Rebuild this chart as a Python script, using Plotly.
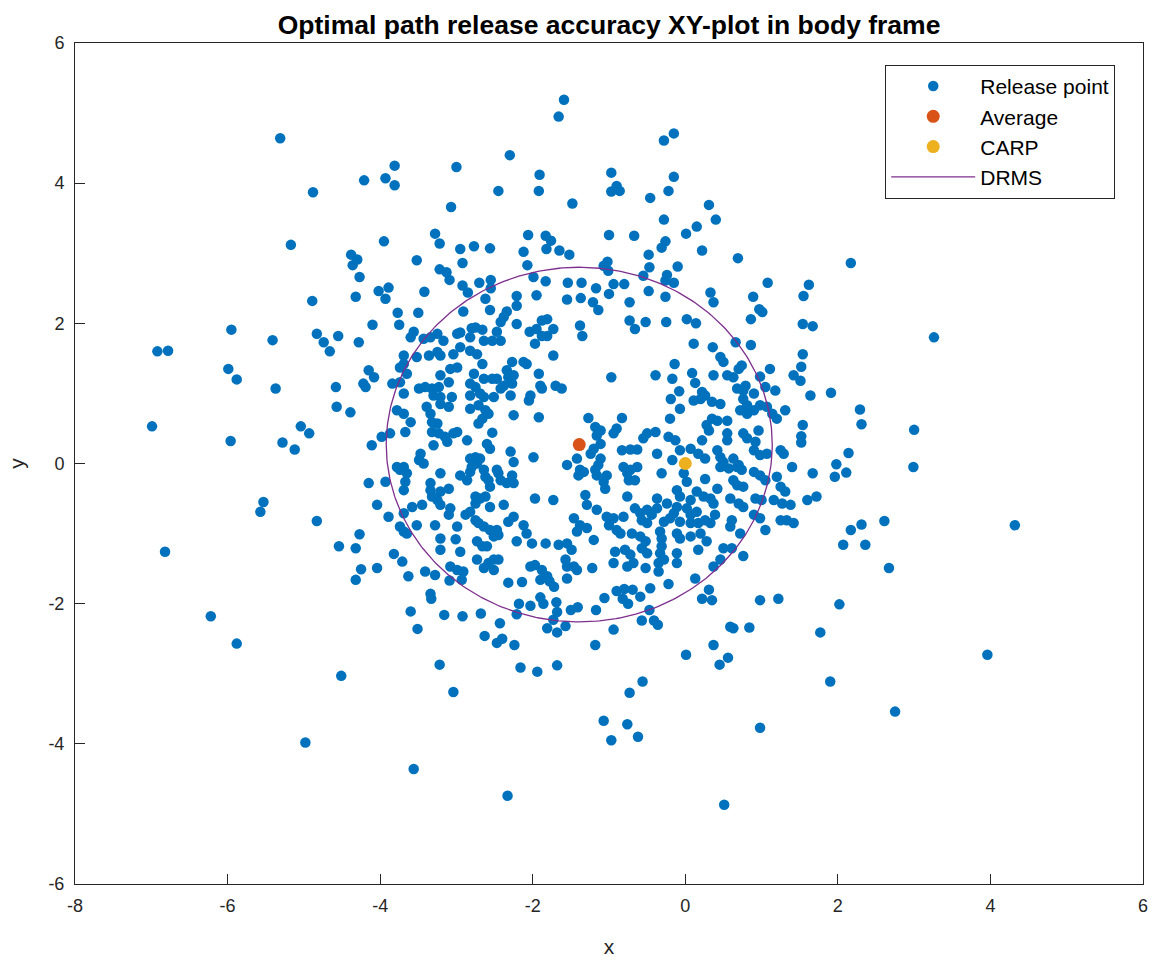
import numpy as np
import plotly.graph_objects as go

# Release points in body frame (x, y)
release_x = [
    -6.92, -6.78, -5.99, -5.88, -5.37, -6.99, -5.96, -5.41, -4.58, -4.57, -4.39, -5.04, -4.93, -5.28, -5.12,
    -5.53, -5.57, -4.83, -6.82, -4.27, -4.54, -4.32, -4.25, -4.32, -4.74, -4.66, -4.83, -4.55, -4.28,
    -5.31, -4.88, -4.21, -5.17, -4.38, -4.30, -4.36, -4.27, -4.89, -4.32, -5.95,
    -6.22, -5.88, -4.51, -4.98,
    -1.59, -1.66, -2.30, -3.00, -3.81, -3.93, -3.81, -1.91, -1.92, -2.45, -1.48, -3.07, -3.28, -3.22, -3.95,
    -2.06, -1.83, -1.76, -1.82, -1.65, -1.52, -2.12, -2.77, -2.56, -2.95, -2.92, -2.07, -3.52, -3.22, -3.13,
    -3.09, -2.70, -2.55, -2.55, -2.92, -2.85, -1.99, -1.83, -1.54, -1.36, -4.02, -3.89, -3.93, -3.42, -2.62,
    -2.21, -1.95, -1.55, -1.37, -2.21, -3.77, -3.50, -2.91, -2.56, -2.34, -2.38, -2.42, -4.10, -3.75, -2.21,
    -3.56, -3.60, -3.25, -3.34, -2.99, -2.95, -2.80, -2.75, -2.66, -2.47, -2.04, -1.95, -1.88, -1.81, -1.73,
    -1.88, -1.38, -1.35,
    -0.15, -0.28, -0.97, -0.90, -0.97, -0.86, -0.15, -0.22, -0.46, 0.31, 0.40, -0.28, 0.15, 0.01, -1.00,
    -0.67, -0.26, -0.31, 0.22, 0.69, -0.48, -0.47, -0.55, -0.10, -1.02, -1.07, -1.01, -0.24, -0.26, -0.15,
    -1.17, -0.94, -0.80, -1.00, -1.21, -1.14, -0.73, -0.48, -0.26, 0.33, 0.37, 1.08, 0.89, 0.97, 1.01,
    0.86, -0.73, -0.66, -0.52, -0.25, 0.02, 0.14,
    2.17, 1.62, 1.55, 1.54, 1.67, 3.26,
    1.54, 1.52, 1.51, 1.64, 1.91, 2.29, 2.31, 3.00, 1.54, 1.52, 1.52, 2.14, 1.98, 2.11, 1.96, 1.67, 2.99,
    1.72, 1.60, 2.31, 2.61, 2.17, 2.07, 2.36, 2.67, 4.32,
    -3.09, -3.34, -3.33, -3.60, -3.51, -3.16, -2.92, -2.68, -2.43, -2.63, -2.47, -2.40, -2.24, -3.22, -3.04,
    -2.16, -1.94, -1.68, -3.56, -2.33, -2.32, -2.14, -2.18, -2.03, -2.21, -1.90, -1.86, -1.78, -1.72, -1.69,
    -1.68, -1.73, -1.81, -1.68, -1.57, -1.50, -1.41, -1.55,
    -1.17, -1.06, -0.90, -0.80, -0.69, -0.82, -0.75, -0.59, -0.46, -0.47, -0.57, -0.41, -0.36, -0.94, -1.18,
    -0.22, 0.13, 0.31, 0.22, 0.35, 0.98, 1.22, 0.59, 0.63, 0.84, 0.37, 0.01, 0.56, 0.45, -0.56, -0.73,
    -1.07, -0.76, -0.97, -0.62, 0.98, 0.51,
    2.02, 1.77, 1.90, 2.75, 3.96,
    -3.43, -3.17, -2.82, -2.64, -2.53, -2.42, -1.97, -1.81, -2.95, -2.82, -2.73, -3.04, -3.25, -3.36, -3.21,
    -3.69, -3.52, -3.69, -3.74, -2.27, -2.12, -2.08, -1.73, -2.66, -4.15, -4.08, -4.22, -4.19, -3.84, -3.74,
    -3.65, -3.21, -3.08, -2.99, -2.77, -2.64, -2.53, -2.47, -2.34, -2.32, -2.25, -1.92, -3.49, -3.41, -3.32,
    -3.23, -3.10, -2.82, -2.75, -2.38, -2.42, -2.27, -1.90, -1.88, -1.70, -1.62, -3.69, -3.30, -3.21, -3.06,
    -2.82, -2.69, -2.64, -2.51, -2.29, -2.03, -2.05, -3.78, -3.69, -3.60, -3.67, -3.39, -3.34, -3.32, -3.25,
    -3.21, -3.10, -2.82, -2.71, -2.62, -2.58, -2.66, -2.71, -2.25, -1.92, -3.87, -3.98, -3.32, -3.23, -3.15,
    -3.04, -2.99, -3.12, -2.86, -2.53, -2.60, -2.56, -4.11, -3.30, -3.47, -3.49, -3.43, -2.82, -2.75, -2.69,
    -2.73, -2.80, -2.82, -2.29, -2.25, -1.99, -3.78, -3.74, -3.69, -3.65, -3.67, -3.21, -2.95, -2.86, -2.64,
    -2.62, -2.58, -2.47, -2.45, -2.42, -2.27, -2.34, -2.25, -1.55, -1.42, -1.40, -1.38, -4.15, -3.93, -3.69,
    -3.34, -3.34, -3.32, -3.21, -3.10, -3.25, -3.21, -2.75, -2.69, -2.62, -2.56, -2.75, -2.56, -2.38, -1.97,
    -1.73, -4.04, -3.58, -3.45, -3.08, -3.10, -3.69, -3.89, -2.88, -2.82, -2.75, -2.71, -2.64, -2.56, -2.47,
    -2.32, -2.25, -2.12, -2.08, -1.46, -1.38, -1.42, -3.74, -3.69, -3.65, -3.52, -3.28, -2.99, -3.21, -3.01,
    -2.73, -2.66, -2.60, -2.51, -2.45, -2.21, -2.01, -1.83, -1.66, -1.55, -1.49, -3.82, -3.71, -3.21, -2.95,
    -2.73, -2.58, -2.51, -2.45, -2.03, -1.97, -1.88, -1.81, -1.57, -1.55, -1.46, -1.42, -4.04, -3.63, -3.41,
    -3.28, -3.08, -2.99, -2.91, -2.93, -2.64, -2.51, -1.90,
    0.11, 0.36, 0.66, 0.86, 0.46, 0.50, -0.14, 0.74, 0.70, 1.11, -0.39, -0.97, -0.17, 0.09, 0.37,
    0.55, 0.63, 0.98, 1.42, 0.13, 0.79, 0.68, 0.76, 1.05, 1.18, -0.08, 0.22, 0.90, -0.19, 0.11,
    0.20, 0.26, 0.35, 0.46, 0.76, 0.81, 0.98, 1.07, -0.07, 0.72, 0.81, 0.90, 1.31, 1.14, -0.20,
    0.35, 0.42, 0.55, 1.20, -1.27, -0.83, -1.18, -1.11, -1.16, -0.90, -0.94, -0.39, -0.50, -0.55, 0.28,
    0.31, 0.55, 0.55, 0.76, 0.81, 0.96, 0.92, -0.22, -0.13, 0.22, -1.11, -1.20, -1.24, -0.83, -0.72,
    -0.63, -0.37, -0.17, -0.07, 0.07, 0.17, 0.26, 0.42, 0.46, 0.50, 0.63, 0.70, 0.90, 0.98, 1.07,
    1.25, 1.29, 1.40, -1.11, -1.14, -1.18, -1.33,
    -0.81, -0.76, -0.72, -0.63, -0.66, -0.74, -0.31, -0.02, 0.02, 0.26, 0.46, 0.57, 0.68, 0.74, 0.63,
    0.68, 0.76, 0.90, 0.98, 1.05, 1.20, 1.25, 1.31, -1.16, -1.03, -1.07, -1.05, -1.31, -1.29, -0.76,
    -0.37, -0.11, -0.07, 0.07, 0.15, 0.24, 0.33, 0.42, 0.37, 0.59, 0.70, 0.76, 0.92, 1.00, 1.16,
    1.27, 1.38, -1.16, -1.03, -0.94, -0.81, -0.66, -0.59, -0.50, -0.44, -0.37, -0.57, -0.50, -0.24, -0.15,
    -0.11, 0.02, 0.07, 0.15, -0.28, -0.20, -0.07, 0.07, 0.17, 0.26, 0.33, 0.39, 0.61, 0.59, 0.72,
    0.90, 0.98, 1.05, 1.25, 1.33, 1.42, -1.29, -1.00, -0.90, -0.85, -0.70, -0.59, -0.52, -0.33, -0.31,
    -0.31, -0.11, -0.07, 0.07, 0.20, 0.28, -1.20, 0.17, 0.50, 0.61, 0.76, -0.92, -0.79, -0.72, -0.57,
    -0.50, -0.33, -0.35, -0.28, -0.11, -0.11, 0.46, 0.37, -0.94, -0.76, -0.68, -1.22, -0.52, -0.35,
]
release_y = [
    1.60, 1.61, 1.35, 1.20, 1.07, 0.53, 0.32, 1.76, 1.09, 0.81, 0.73, 0.53, 0.43, 0.30, 0.20,
    -0.55, -0.69, -0.82, -1.26, -1.01, -1.18, -1.21, -1.51, -1.66, 1.73, 1.60, 1.85, 1.82, 1.73,
    4.64, 3.87, 4.04, 3.12, 2.98, 2.91, 2.83, 2.66, 2.32, 2.38, 1.91,
    -2.18, -2.57, -3.03, -3.98,
    5.19, 4.95, 4.40, 4.23, 4.25, 4.07, 3.97, 4.12, 3.89, 3.89, 3.71, 3.66, 3.28, 3.14, 3.17,
    3.26, 3.25, 3.18, 3.06, 3.04, 2.98, 3.02, 3.10, 3.07, 3.06, 2.86, 2.83, 2.90, 2.77, 2.73,
    2.62, 2.58, 2.62, 2.50, 2.54, 2.44, 2.66, 2.60, 2.58, 2.58, 2.46, 2.51, 2.35, 2.45, 2.35,
    2.39, 2.40, 2.34, 2.36, 2.25, 2.15, 2.15, 2.17, 2.19, 2.17, 2.09, 2.02, 1.98, 1.98, 1.99,
    1.88, 1.80, 1.85, 1.80, 1.85, 1.87, 1.93, 1.94, 1.91, 1.88, 1.88, 1.92, 2.04, 2.06, 1.92,
    1.82, 1.97, 1.82,
    4.71, 4.61, 4.15, 3.96, 3.88, 3.89, 4.09, 3.89, 3.79, 3.69, 3.48, 3.48, 3.38, 3.28, 3.26,
    3.25, 3.17, 3.08, 3.04, 2.93, 2.98, 2.80, 2.68, 2.81, 2.88, 2.82, 2.75, 2.69, 2.61, 2.58,
    2.50, 2.56, 2.56, 2.42, 2.30, 2.19, 2.30, 2.46, 2.38, 2.44, 2.30, 2.58, 2.38, 2.20, 2.16,
    2.06, 2.04, 1.92, 2.02, 2.02, 2.06, 2.00,
    2.86, 2.55, 2.39, 1.99, 1.96, 1.80,
    1.56, 1.38, 1.18, 0.97, 1.01, 0.77, 0.56, 0.48, 0.55, 0.39, 0.30, 0.15, -0.01, -0.13, -0.19, -0.14, -0.05,
    -0.47, -0.52, -0.87, -0.82, -0.95, -1.16, -1.16, -1.49, -0.88,
    -1.67, -1.86, -1.93, -2.11, -2.36, -2.16, -2.18, -2.14, -2.28, -2.46, -2.56, -2.50, -2.59, -2.87, -3.26,
    -2.91, -2.97, -2.88, -4.36, -4.74, -1.70, -1.69, -2.00, -2.03, -2.15, -1.91, -2.00, -1.68, -1.76, -1.98,
    -2.12, -2.23, -2.35, -2.41, -2.32, -2.09, -2.05, -1.64,
    -2.09, -1.92, -1.82, -1.79, -1.80, -1.93, -2.00, -1.90, -1.78, -2.09, -2.24, -2.24, -2.30, -2.37, -2.59,
    -1.72, -1.64, -1.80, -1.93, -1.95, -1.95, -1.93, -2.33, -2.35, -2.34, -2.59, -2.73, -2.77, -2.87, -3.11, -3.27,
    -3.67, -3.72, -3.95, -3.90, -3.77, -4.87,
    -2.01, -2.41, -3.11, -3.54, -2.73,
    1.78, 1.75, 1.80, 1.75, 1.75, 1.75, 1.71, 1.82, 1.66, 1.61, 1.56, 1.56, 1.59, 1.54, 1.54,
    1.54, 1.52, 1.42, 1.37, 1.45, 1.45, 1.42, 1.54, 1.42, 1.33, 1.23, 1.14, 1.09, 1.14, 1.16,
    1.28, 1.26, 1.35, 1.37, 1.28, 1.21, 1.21, 1.21, 1.33, 1.23, 1.26, 1.28, 1.07, 1.09, 1.07,
    1.09, 1.16, 1.14, 1.09, 1.11, 1.07, 1.14, 1.11, 1.07, 1.11, 1.07, 1.00, 0.97, 0.95, 0.95,
    0.97, 1.00, 0.95, 0.95, 0.97, 0.97, 0.90, 0.76, 0.71, 0.59, 0.45, 0.81, 0.71, 0.59, 0.57,
    0.85, 0.81, 0.78, 0.83, 0.76, 0.71, 0.64, 0.57, 0.69, 0.66, 0.43, 0.38, 0.45, 0.43, 0.38,
    0.43, 0.45, 0.31, 0.33, 0.44, 0.28, 0.21, 0.26, 0.26, 0.14, 0.05, 0.00, 0.07, 0.09, 0.07,
    0.00, -0.05, -0.12, 0.17, 0.02, 0.09, -0.05, -0.09, -0.05, -0.14, -0.26, -0.14, -0.17, -0.24, -0.09,
    -0.19, -0.24, -0.09, -0.14, -0.24, -0.17, -0.28, -0.28, -0.02, 0.07, -0.17, -0.09, -0.28, -0.26, -0.38,
    -0.28, -0.38, -0.47, -0.40, -0.36, -0.52, -0.59, -0.47, -0.50, -0.47, -0.33, -0.57, -0.62, -0.59, -0.50,
    -0.52, -0.59, -0.62, -0.59, -0.64, -0.73, -0.71, -0.76, -0.73, -0.69, -0.81, -0.85, -0.90, -0.95, -0.95,
    -0.83, -0.76, -0.88, -1.00, -0.78, -0.88, -0.97, -0.90, -0.97, -1.00, -0.88, -0.88, -0.90, -1.07, -1.08,
    -1.11, -1.18, -1.18, -1.04, -1.02, -1.11, -1.14, -1.14, -1.16, -1.14, -1.23, -1.29, -1.40, -1.23, -1.26,
    -1.37, -1.42, -1.37, -1.37, -1.47, -1.45, -1.52, -1.61, -1.37, -1.47, -1.47, -1.52, -1.49, -1.61, -1.54,
    -1.59, -1.47, -1.52, -1.54, -1.66, -1.49, -1.52, -1.66,
    1.71, 1.66, 1.73, 1.69, 1.52, 1.45, 1.42, 1.40, 1.35, 1.35, 1.26, 1.23, 1.21, 1.29, 1.26,
    1.26, 1.23, 1.24, 1.26, 1.15, 1.11, 1.07, 1.04, 1.09, 1.04, 1.03, 1.02, 1.00, 0.92, 0.90,
    0.92, 0.97, 0.88, 0.85, 0.92, 0.83, 0.83, 0.81, 0.78, 0.76, 0.71, 0.76, 0.76, 0.71, 0.64,
    0.64, 0.61, 0.61, 0.64, 0.65, 0.65, 0.52, 0.47, 0.40, 0.50, 0.43, 0.45, 0.43, 0.36, 0.55,
    0.47, 0.43, 0.33, 0.43, 0.36, 0.47, 0.31, 0.38, 0.33, 0.33, 0.28, 0.21, 0.14, 0.19, 0.20,
    0.20, 0.14, 0.05, 0.19, 0.21, 0.14, 0.07, 0.19, 0.09, 0.02, 0.07, -0.02, 0.19, 0.12, 0.14,
    0.19, 0.14, -0.05, 0.07, -0.02, -0.09, -0.12,
    -0.05, -0.14, -0.09, -0.05, -0.24, -0.24, -0.14, -0.14, -0.26, -0.22, -0.05, -0.07, -0.05, -0.09, -0.24,
    -0.31, -0.33, -0.12, -0.17, -0.24, -0.19, -0.33, -0.40, -0.17, -0.17, -0.26, -0.36, -0.45, -0.59, -0.47,
    -0.50, -0.38, -0.47, -0.52, -0.40, -0.47, -0.50, -0.36, -0.57, -0.50, -0.57, -0.62, -0.50, -0.52, -0.52,
    -0.57, -0.59, -0.66, -0.76, -0.78, -0.76, -0.64, -0.71, -0.66, -0.73, -0.64, -0.81, -0.85, -0.57, -0.71,
    -0.62, -0.64, -0.73, -0.69, -0.83, -0.78, -0.83, -0.85, -0.85, -0.81, -0.85, -0.73, -0.81, -0.90, -1.00,
    -0.73, -0.78, -0.95, -0.81, -0.81, -0.85, -0.92, -0.88, -0.95, -1.00, -1.00, -1.04, -1.11, -0.97, -1.07,
    -1.18, -1.00, -1.07, -1.04, -1.00, -1.11, -1.09, -1.23, -1.21, -1.21, -1.32, -1.26, -1.23, -1.30, -1.21,
    -1.28, -1.28, -1.42, -1.37, -1.28, -1.42, -1.37, -1.47, -1.42, -1.47, -1.42, -1.49, -1.49, -1.54,
]

# Mean release point, computed aiming point and DRMS radius
average_x, average_y = -1.39, 0.27
carp_x, carp_y = 0.0, 0.0
drms = 2.53

# Axis tick positions and their labels
x_ticks = [-8, -6, -4, -2, 0, 2, 4, 6]
y_ticks = [-6, -4, -2, 0, 2, 4, 6]
x_tick_labels = ["-8", "-6", "-4", "-2", "0", "2", "4", "6"]
y_tick_labels = ["-6", "-4", "-2", "0", "2", "4", "6"]

theta = np.linspace(0, 2 * np.pi, 361)
circle_x = average_x + drms * np.cos(theta)
circle_y = average_y + drms * np.sin(theta)

font_family = "Liberation Sans, Arial, Helvetica, sans-serif"
axis_color = "#262626"

fig = go.Figure()
fig.add_trace(go.Scatter(
    x=release_x, y=release_y, mode="markers", name="Release point",
    marker=dict(color="#0072BD", size=10.5, line=dict(width=0)),
    legendgroup="a",
))
fig.add_trace(go.Scatter(
    x=[average_x], y=[average_y], mode="markers", name="Average",
    marker=dict(color="#D95319", size=13, line=dict(width=0)),
    legendgroup="b",
))
fig.add_trace(go.Scatter(
    x=[carp_x], y=[carp_y], mode="markers", name="CARP",
    marker=dict(color="#EDB120", size=13, line=dict(width=0)),
    legendgroup="c",
))
fig.add_trace(go.Scatter(
    x=circle_x, y=circle_y, mode="lines", name="DRMS",
    line=dict(color="#7E2F8E", width=1.3),
    legendgroup="d",
))

axis_common = dict(
    showgrid=False, zeroline=False, showline=True, mirror=True,
    linecolor=axis_color, linewidth=1, ticks="inside", ticklen=10,
    tickcolor=axis_color, tickwidth=1,
    tickfont=dict(family=font_family, size=18, color=axis_color),
    title_font=dict(family=font_family, size=21, color=axis_color),
)

fig.update_layout(
    width=1163, height=966,
    margin=dict(l=75, r=20, t=43, b=79),
    paper_bgcolor="white", plot_bgcolor="white",
    font=dict(family=font_family, color=axis_color),
    title=dict(
        text="<b>Optimal path release accuracy XY-plot in body frame</b>",
        x=0.5237, xanchor="center", y=0.974, yanchor="middle",
        font=dict(family=font_family, size=26.5, color="black"),
    ),
    xaxis=dict(range=[-8, 6], title=dict(text="x", standoff=24), ticklabelstandoff=5,
               tickvals=x_ticks, ticktext=x_tick_labels, **axis_common),
    yaxis=dict(range=[-6, 6], title=dict(text="y", standoff=18), ticklabelstandoff=6,
               tickvals=y_ticks, ticktext=y_tick_labels, **axis_common),
    legend=dict(
        x=0.974, xanchor="right", y=0.974, yanchor="top",
        bordercolor=axis_color, borderwidth=1, bgcolor="white",
        font=dict(family=font_family, size=21, color="black"),
        traceorder="grouped", tracegroupgap=0, itemwidth=84,
    ),
    showlegend=True,
)

fig.write_html("out.html")
